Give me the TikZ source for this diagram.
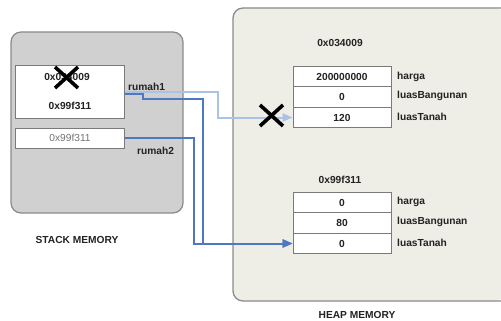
\documentclass[tikz,border=0pt]{standalone}
\usepackage{fontspec}
\setmainfont{Liberation Sans}
\usetikzlibrary{arrows.meta}
\definecolor{heapfill}{HTML}{EEEEE7}
\definecolor{stackfill}{HTML}{D0D0D0}
\definecolor{frame}{HTML}{8A8A8A}
\definecolor{cellframe}{HTML}{7A7A7A}
\definecolor{darkblue}{HTML}{4F78C4}
\definecolor{lightblue}{HTML}{A9C3E6}
\definecolor{txt}{HTML}{222222}
\begin{document}
\begin{tikzpicture}[x=1pt,y=-1pt,
  lbl/.style={font=\fontsize{10.2}{12}\selectfont\bfseries, text=txt, inner sep=0pt},
  cell/.style={draw=cellframe, line width=0.8pt, fill=white, minimum width=98pt, minimum height=20.5pt, inner sep=0pt, font=\fontsize{10.2}{12}\selectfont\bfseries, text=txt},
  fld/.style={lbl, anchor=west},
  xmark/.style={line width=3.6pt, black},
  link/.style={line width=2pt, -{Triangle[length=10pt,width=8pt]}}
]
\useasboundingbox (0,0) rectangle (501,321);
% heap area
\fill[heapfill, rounded corners=10pt] (505,8) -- (233,8) -- (233,301) -- (505,301) -- cycle;
\draw[frame, line width=1.3pt, rounded corners=10pt] (501,8) -- (233,8) -- (233,301) -- (501,301);
% stack area
\draw[frame, fill=stackfill, line width=1.2pt, rounded corners=10pt] (11,32) rectangle (183,213);
\node[lbl] (stacklbl) at (77,240) {STACK MEMORY};
\node[lbl] (heaplbl) at (357,315) {HEAP MEMORY};
% stack variables
\node[draw=cellframe, line width=0.8pt, fill=white, minimum width=109pt, minimum height=53pt, inner sep=0pt] (r1) at (70,91.5) {};
\node[lbl] (old) at (67,77) {0x034009};
\node[lbl] (new) at (70,106) {0x99f311};
\node[draw=cellframe, line width=0.8pt, fill=white, minimum width=109pt, minimum height=20pt, inner sep=0pt, font=\fontsize{10.2}{12}\selectfont, text=black!55] (r2) at (70,138) {0x99f311};
\node[lbl, anchor=west] (n1) at (128,87) {rumah1};
\node[lbl, anchor=west] (n2) at (137,151) {rumah2};
% object 1
\node[lbl] (a1) at (340,43) {0x034009};
\node[cell] (h1) at (342,76.5) {200000000};
\node[cell] (b1) at (342,97) {0};
\node[cell] (t1) at (342,117.5) {120};
\node[fld] (fh1) at (397,77) {harga};
\node[fld] (fb1) at (397,96) {luasBangunan};
\node[fld] (ft1) at (397,117) {luasTanah};
% object 2
\node[lbl] (a2) at (340,180) {0x99f311};
\node[cell] (h2) at (342,202.5) {0};
\node[cell] (b2) at (342,223) {80};
\node[cell] (t2) at (342,243.5) {0};
\node[fld] (fh2) at (397,202) {harga};
\node[fld] (fb2) at (397,222) {luasBangunan};
\node[fld] (ft2) at (397,243) {luasTanah};
% connectors
\coordinate (s1) at (r1.east |- 0,92);
\coordinate (s1b) at (r1.east |- 0,94);
\draw[link, lightblue] (s1) -- (218,92) -- (218,117.5) -- (t1.west);
\draw[link, darkblue] (s1b) -- (143,94) -- (143,99) -- (203,99) -- (203,243.5) -- (t2.west);
\draw[link, darkblue] (r2.east) -- (194,138) -- (194,243.5) -- (t2.west);
% crosses
\draw[xmark] (55,67) -- (78,88) (78,67) -- (55,88);
\draw[xmark] (260,105) -- (283,126) (283,105) -- (260,126);
\end{tikzpicture}
\end{document}
